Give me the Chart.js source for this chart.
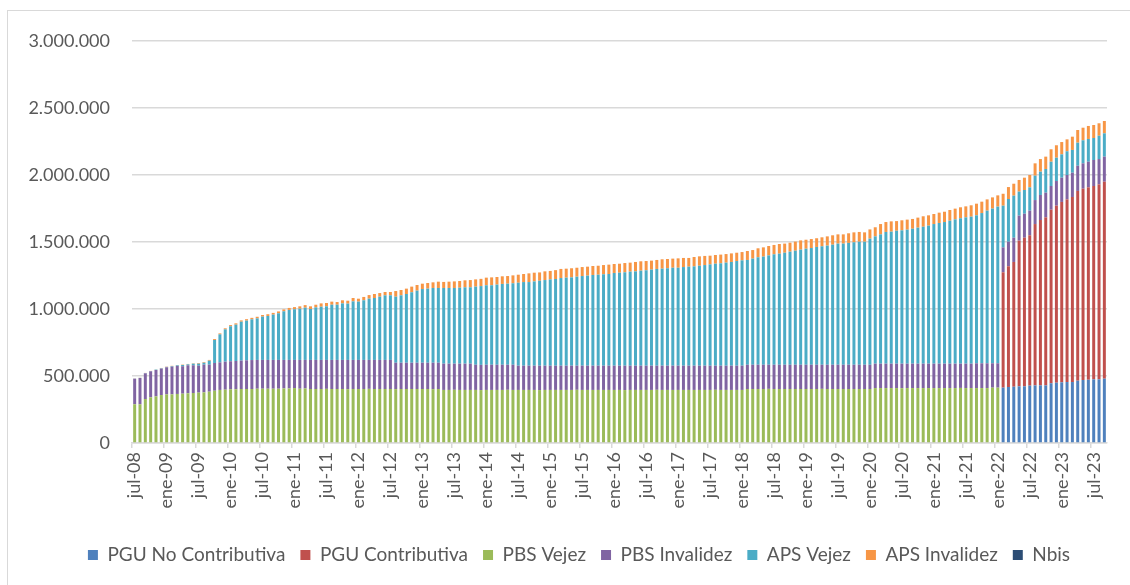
<!DOCTYPE html>
<html lang="es">
<head>
<meta charset="UTF-8">
<title>Beneficiarios pilar solidario y PGU</title>
<script src="https://cdn.jsdelivr.net/npm/chart.js"></script>
<style>
    html, body {
        margin: 0;
        padding: 0;
        background: #ffffff;
        overflow: hidden;
    }
    #wrap {
        position: relative;
        width: 1130px;
        height: 585px;
    }
    #marco {
        position: absolute;
        left: 7px;
        top: 10px;
        width: 1200px;
        height: 700px;
        border: 1px solid #d9d9d9;
        pointer-events: none;
    }
    canvas {
        position: absolute;
        left: 0;
        top: 0;
    }
</style>
</head>
<body>
<div id="wrap">
    <div id="marco"></div>
    <canvas id="grafico" width="1130" height="585"></canvas>
</div>
<script>
// meses jul-08 .. sep-23 (183 barras)
const mesesAbrev = ['ene', 'feb', 'mar', 'abr', 'may', 'jun', 'jul', 'ago', 'sep', 'oct', 'nov', 'dic'];
const mesInicio = 6, anioInicio = 2008, totalMeses = 183;

// tick labels del eje y
const ticksY = [0, 500000, 1000000, 1500000, 2000000, 2500000, 3000000];

// series (una fila por año; 2008 empieza en julio, 2023 termina en septiembre)
const pguNoContributiva = [
    0, 0, 0, 0, 0, 0,
    0, 0, 0, 0, 0, 0, 0, 0, 0, 0, 0, 0,
    0, 0, 0, 0, 0, 0, 0, 0, 0, 0, 0, 0,
    0, 0, 0, 0, 0, 0, 0, 0, 0, 0, 0, 0,
    0, 0, 0, 0, 0, 0, 0, 0, 0, 0, 0, 0,
    0, 0, 0, 0, 0, 0, 0, 0, 0, 0, 0, 0,
    0, 0, 0, 0, 0, 0, 0, 0, 0, 0, 0, 0,
    0, 0, 0, 0, 0, 0, 0, 0, 0, 0, 0, 0,
    0, 0, 0, 0, 0, 0, 0, 0, 0, 0, 0, 0,
    0, 0, 0, 0, 0, 0, 0, 0, 0, 0, 0, 0,
    0, 0, 0, 0, 0, 0, 0, 0, 0, 0, 0, 0,
    0, 0, 0, 0, 0, 0, 0, 0, 0, 0, 0, 0,
    0, 0, 0, 0, 0, 0, 0, 0, 0, 0, 0, 0,
    0, 0, 0, 0, 0, 0, 0, 0, 0, 0, 0, 0,
    0, 413000, 418000, 420000, 423000, 423000, 428000, 430000, 430000, 430000, 446000, 450000,
    453000, 455000, 455000, 465000, 470000, 472000, 475000, 475000, 480000
];

const pguContributiva = [
    0, 0, 0, 0, 0, 0,
    0, 0, 0, 0, 0, 0, 0, 0, 0, 0, 0, 0,
    0, 0, 0, 0, 0, 0, 0, 0, 0, 0, 0, 0,
    0, 0, 0, 0, 0, 0, 0, 0, 0, 0, 0, 0,
    0, 0, 0, 0, 0, 0, 0, 0, 0, 0, 0, 0,
    0, 0, 0, 0, 0, 0, 0, 0, 0, 0, 0, 0,
    0, 0, 0, 0, 0, 0, 0, 0, 0, 0, 0, 0,
    0, 0, 0, 0, 0, 0, 0, 0, 0, 0, 0, 0,
    0, 0, 0, 0, 0, 0, 0, 0, 0, 0, 0, 0,
    0, 0, 0, 0, 0, 0, 0, 0, 0, 0, 0, 0,
    0, 0, 0, 0, 0, 0, 0, 0, 0, 0, 0, 0,
    0, 0, 0, 0, 0, 0, 0, 0, 0, 0, 0, 0,
    0, 0, 0, 0, 0, 0, 0, 0, 0, 0, 0, 0,
    0, 0, 0, 0, 0, 0, 0, 0, 0, 0, 0, 0,
    0, 861000, 901000, 931000, 1087000, 1109000, 1122000, 1204000, 1234000, 1254000, 1295000, 1321000,
    1346000, 1363000, 1381000, 1416000, 1428000, 1436000, 1443000, 1455000, 1470000
];

const pbsVejez = [
    289000, 289000, 328000, 341000, 348000, 358000,
    363000, 363000, 366000, 368000, 371000, 373000, 376000, 378000, 383000, 390000, 396000, 398000,
    401000, 401000, 403000, 403000, 403000, 405000, 405000, 405000, 405000, 405000, 407000, 407000,
    410000, 405000, 407000, 403000, 403000, 403000, 404000, 403000, 403000, 403000, 402000, 403000,
    403000, 403000, 404000, 403000, 403000, 403000, 403000, 402000, 403000, 403000, 403000, 403000,
    403000, 403000, 402000, 403000, 396000, 396000, 397000, 396000, 396000, 396000, 396000, 395000,
    396000, 396000, 396000, 396000, 397000, 396000, 396000, 396000, 396000, 396000, 395000, 396000,
    396000, 396000, 396000, 396000, 396000, 397000, 396000, 396000, 396000, 396000, 396000, 396000,
    396000, 396000, 395000, 396000, 396000, 396000, 396000, 396000, 397000, 396000, 396000, 396000,
    396000, 396000, 396000, 396000, 396000, 396000, 396000, 397000, 396000, 396000, 396000, 396000,
    396000, 403000, 403000, 403000, 403000, 404000, 403000, 403000, 403000, 403000, 403000, 403000,
    403000, 403000, 403000, 404000, 403000, 403000, 403000, 403000, 403000, 403000, 403000, 403000,
    403000, 410000, 410000, 410000, 410000, 410000, 409000, 410000, 410000, 410000, 410000, 410000,
    410000, 410000, 410000, 410000, 410000, 411000, 410000, 410000, 410000, 410000, 410000, 413000,
    413000, 0, 0, 0, 0, 0, 0, 0, 0, 0, 0, 0,
    0, 0, 0, 0, 0, 0, 0, 0, 0
];

const pbsInvalidez = [
    191000, 196000, 192000, 194000, 197000, 197000,
    202000, 207000, 209000, 205000, 209000, 207000, 201000, 207000, 202000, 207000, 206000, 209000,
    209000, 211000, 212000, 214000, 216000, 215000, 215000, 215000, 215000, 215000, 213000, 213000,
    210000, 215000, 213000, 217000, 217000, 217000, 216000, 217000, 217000, 217000, 218000, 217000,
    217000, 217000, 216000, 217000, 217000, 217000, 217000, 197000, 196000, 196000, 196000, 196000,
    196000, 196000, 197000, 196000, 196000, 196000, 195000, 196000, 196000, 196000, 188000, 188000,
    188000, 188000, 188000, 188000, 187000, 188000, 181000, 181000, 181000, 181000, 182000, 181000,
    181000, 181000, 181000, 181000, 181000, 180000, 181000, 181000, 181000, 181000, 181000, 181000,
    181000, 181000, 182000, 181000, 181000, 181000, 181000, 181000, 180000, 181000, 181000, 181000,
    181000, 181000, 181000, 181000, 181000, 181000, 181000, 180000, 181000, 181000, 181000, 181000,
    181000, 181000, 181000, 181000, 181000, 180000, 181000, 181000, 181000, 181000, 181000, 181000,
    181000, 181000, 181000, 180000, 181000, 181000, 181000, 181000, 181000, 181000, 181000, 181000,
    181000, 182000, 182000, 182000, 182000, 182000, 183000, 182000, 182000, 182000, 182000, 182000,
    182000, 182000, 182000, 182000, 182000, 181000, 182000, 182000, 185000, 185000, 185000, 182000,
    182000, 186000, 183000, 181000, 187000, 179000, 184000, 179000, 187000, 184000, 177000, 184000,
    181000, 182000, 181000, 188000, 189000, 191000, 194000, 189000, 187000
];

const apsVejez = [
    1000, 1000, 2000, 2000, 3000, 3000,
    3000, 4000, 5000, 9000, 7000, 12000, 15000, 14000, 29000, 172000, 209000, 241000,
    261000, 271000, 290000, 296000, 304000, 310000, 323000, 328000, 338000, 348000, 363000, 373000,
    378000, 382000, 390000, 380000, 392000, 397000, 400000, 412000, 412000, 422000, 420000, 437000,
    435000, 445000, 457000, 462000, 472000, 482000, 482000, 493000, 503000, 513000, 526000, 538000,
    550000, 553000, 558000, 558000, 565000, 565000, 565000, 567000, 570000, 570000, 583000, 588000,
    593000, 593000, 598000, 603000, 605000, 608000, 619000, 624000, 624000, 629000, 634000, 639000,
    644000, 647000, 654000, 657000, 659000, 664000, 669000, 672000, 677000, 679000, 682000, 684000,
    692000, 694000, 697000, 702000, 704000, 709000, 712000, 717000, 722000, 724000, 727000, 731000,
    731000, 736000, 739000, 741000, 746000, 751000, 756000, 761000, 764000, 769000, 774000, 781000,
    786000, 782000, 792000, 802000, 807000, 816000, 824000, 829000, 836000, 844000, 851000, 859000,
    866000, 871000, 879000, 884000, 889000, 896000, 904000, 904000, 909000, 914000, 918000, 918000,
    941000, 950000, 965000, 983000, 985000, 992000, 995000, 1000000, 1007000, 1015000, 1022000, 1030000,
    1042000, 1050000, 1057000, 1067000, 1077000, 1085000, 1092000, 1097000, 1104000, 1121000, 1139000, 1154000,
    1169000, 311000, 319000, 314000, 179000, 177000, 174000, 182000, 174000, 177000, 181000, 174000,
    174000, 177000, 170000, 172000, 172000, 170000, 164000, 174000, 174000
];

const apsInvalidez = [
    1000, 1000, 1000, 1000, 1000, 2000,
    2000, 2000, 2000, 3000, 3000, 3000, 5000, 5000, 6000, 7000, 7000, 8000,
    9000, 10000, 10000, 11000, 11000, 12000, 12000, 13000, 13000, 14000, 14000, 15000,
    16000, 18000, 19000, 20000, 20000, 25000, 25000, 23000, 20000, 23000, 22000, 25000,
    22000, 25000, 27000, 30000, 27000, 25000, 25000, 42000, 40000, 40000, 42000, 42000,
    40000, 42000, 42000, 47000, 45000, 47000, 49000, 50000, 52000, 54000, 54000, 54000,
    57000, 59000, 57000, 57000, 57000, 59000, 60000, 60000, 65000, 65000, 62000, 65000,
    63000, 66000, 68000, 67000, 68000, 67000, 67000, 67000, 67000, 67000, 69000, 70000,
    67000, 67000, 69000, 67000, 70000, 70000, 69000, 67000, 67000, 70000, 69000, 68000,
    70000, 68000, 65000, 70000, 70000, 68000, 65000, 65000, 65000, 64000, 64000, 62000,
    62000, 67000, 64000, 67000, 69000, 70000, 70000, 72000, 68000, 67000, 68000, 69000,
    67000, 67000, 65000, 67000, 69000, 70000, 69000, 69000, 72000, 74000, 73000, 70000,
    69000, 68000, 77000, 74000, 77000, 72000, 75000, 75000, 73000, 75000, 78000, 77000,
    75000, 77000, 77000, 80000, 80000, 82000, 82000, 85000, 87000, 85000, 84000, 84000,
    84000, 89000, 89000, 89000, 87000, 92000, 92000, 92000, 94000, 92000, 93000, 93000,
    92000, 89000, 99000, 95000, 94000, 97000, 97000, 93000, 92000
];

const nbis = [
    0, 0, 0, 0, 0, 0,
    0, 0, 0, 0, 0, 0, 0, 0, 0, 0, 0, 0,
    0, 0, 0, 0, 0, 0, 0, 0, 0, 0, 0, 0,
    0, 0, 0, 0, 0, 0, 0, 0, 0, 0, 0, 0,
    0, 0, 0, 0, 0, 0, 0, 0, 0, 0, 0, 0,
    0, 0, 0, 0, 0, 0, 0, 0, 0, 0, 0, 0,
    0, 0, 0, 0, 0, 0, 0, 0, 0, 0, 0, 0,
    0, 0, 0, 0, 0, 0, 0, 0, 0, 0, 0, 0,
    0, 0, 0, 0, 0, 0, 0, 0, 0, 0, 0, 0,
    0, 0, 0, 0, 0, 0, 0, 0, 0, 0, 0, 0,
    0, 0, 0, 0, 0, 0, 0, 0, 0, 0, 0, 0,
    0, 0, 0, 0, 0, 0, 0, 0, 0, 0, 0, 0,
    0, 0, 0, 0, 0, 0, 0, 0, 0, 0, 0, 0,
    0, 0, 0, 0, 0, 0, 0, 0, 0, 0, 0, 0,
    0, 0, 0, 0, 0, 0, 0, 0, 0, 0, 0, 0,
    0, 0, 0, 0, 0, 0, 0, 0, 0
];

let meses = [];
for (let i = 0; i < totalMeses; i++) {
    let m = (mesInicio + i) % 12;
    let a = anioInicio + Math.floor((mesInicio + i) / 12);
    meses.push(mesesAbrev[m] + '-' + String(a).slice(2));
}

function miles(v) {
    return String(v).replace(/\B(?=(\d{3})+(?!\d))/g, '.');
}

const gris = '#d9d9d9';
const texto = '#595959';
const fuente = 'Lato, "DejaVu Sans", sans-serif';

function serie(nombre, datos, color) {
    return {
        label: nombre,
        data: datos,
        backgroundColor: color,
        borderWidth: 0,
        barPercentage: 0.56,
        categoryPercentage: 1.0
    };
}

// corre la leyenda un poco a la derecha, como en el original
const moverLeyenda = {
    id: 'moverLeyenda',
    afterLayout: function (chart) {
        chart.legend.left += 23;
        chart.legend.right += 23;
    }
};

let ctx = document.getElementById('grafico').getContext('2d');
let grafico = new Chart(ctx, {
    type: 'bar',
    data: {
        labels: meses,
        datasets: [
            serie('PGU No Contributiva', pguNoContributiva, '#4f81bd'),
            serie('PGU Contributiva', pguContributiva, '#c0504d'),
            serie('PBS Vejez', pbsVejez, '#9bbb59'),
            serie('PBS Invalidez', pbsInvalidez, '#8064a2'),
            serie('APS Vejez', apsVejez, '#4bacc6'),
            serie('APS Invalidez', apsInvalidez, '#f79646'),
            serie('Nbis', nbis, '#2c4d75')
        ]
    },
    plugins: [moverLeyenda],
    options: {
        responsive: false,
        animation: false,
        devicePixelRatio: 1,
        layout: {
            padding: { left: 0, right: 18, top: 41, bottom: 10.5 }
        },
        plugins: {
            tooltip: { enabled: false },
            legend: {
                position: 'bottom',
                labels: {
                    color: texto,
                    font: { family: fuente, size: 19 },
                    boxWidth: 10,
                    boxHeight: 10,
                    padding: 15
                }
            }
        },
        scales: {
            x: {
                stacked: true,
                offset: true,
                afterFit: function (s) { s.height = 87.5; },
                border: { display: true, color: gris, width: 1.5 },
                grid: {
                    offset: true,
                    drawOnChartArea: false,
                    drawTicks: true,
                    tickLength: 5,
                    lineWidth: 1.5,
                    color: function (c) {
                        return (c.index % 6 === 0 && c.index < totalMeses) ? gris : 'rgba(0,0,0,0)';
                    }
                },
                ticks: {
                    autoSkip: false,
                    minRotation: 90,
                    maxRotation: 90,
                    padding: 4,
                    color: texto,
                    font: { family: fuente, size: 18 },
                    callback: function (v, i) { return i % 6 === 0 ? meses[i] : ''; }
                }
            },
            y: {
                stacked: true,
                min: 0,
                max: ticksY[ticksY.length - 1],
                afterFit: function (s) { s.width = 132; },
                afterBuildTicks: function (s) { s.ticks = ticksY.map(v => ({ value: v })); },
                border: { display: false },
                grid: {
                    color: gris,
                    lineWidth: 1.5,
                    drawTicks: false
                },
                ticks: {
                    padding: 22,
                    color: texto,
                    font: { family: fuente, size: 18 },
                    callback: function (v) { return miles(v); }
                }
            }
        }
    }
});
</script>
</body>
</html>
